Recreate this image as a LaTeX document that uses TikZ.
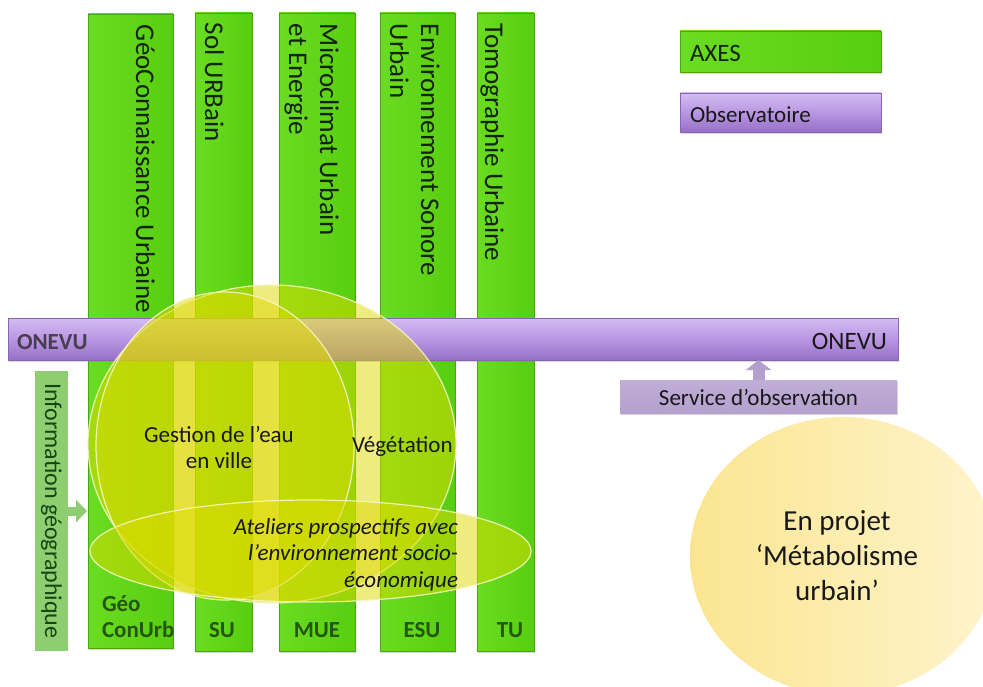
\documentclass[tikz,border=0pt]{standalone}
\usepackage{fontspec}
\setmainfont{Carlito}
\usetikzlibrary{shadows,shapes.geometric,arrows.meta}
\definecolor{barg}{RGB}{88,206,16}
\definecolor{bargl}{RGB}{106,220,34}
\definecolor{bargd}{RGB}{70,168,14}
\definecolor{purl}{RGB}{212,188,242}
\definecolor{purm}{RGB}{185,150,226}
\definecolor{purd}{RGB}{150,112,200}
\definecolor{servp}{RGB}{180,160,206}
\definecolor{infog}{RGB}{142,206,112}
\definecolor{yel}{RGB}{222,218,0}
\definecolor{ringc}{RGB}{246,246,190}
\definecolor{metaA}{RGB}{251,229,145}
\definecolor{metaM}{RGB}{252,235,165}
\definecolor{metaB}{RGB}{254,244,204}
\definecolor{txt}{RGB}{24,24,24}
\definecolor{bartextc}{RGB}{18,34,6}
\definecolor{labgreen}{RGB}{36,86,14}
\definecolor{onevul}{RGB}{72,62,80}
\begin{document}
\begin{tikzpicture}[x=1pt,y=-1pt,
  every node/.append style={inner sep=0pt, outer sep=0pt, text=txt},
  f23/.style={font=\fontsize{23}{26}\selectfont},
  f23b/.style={font=\fontsize{23}{26}\selectfont\bfseries},
  f23i/.style={font=\fontsize{23}{26.5}\selectfont\itshape},
  f24/.style={font=\fontsize{24}{28}\selectfont},
  f25/.style={font=\fontsize{25}{29}\selectfont},
  f29/.style={font=\fontsize{29}{35}\selectfont},
  shad/.style={drop shadow={shadow xshift=1pt, shadow yshift=-2pt, opacity=0.3}},
  axebar/.style={rectangle, draw=bargd, line width=0.7pt, left color=bargl, right color=barg,
    minimum height=638pt, anchor=north west, shad},
  purbar/.style={rectangle, draw=purd!90!black, line width=0.5pt, top color=purl, bottom color=purd,
    middle color=purm, anchor=north west, shad},
  axebox/.style={rectangle, draw=bargd, line width=0.7pt, left color=bargl, right color=barg,
    anchor=north west, shad},
  infobox/.style={rectangle, fill=infog, text=txt!80!green},
  servbox/.style={rectangle, top color=servp!85!white, bottom color=servp, anchor=north west, shad},
  infoarrow/.style={draw=infog, line width=9pt, -{Triangle[width=22pt,length=11pt]}},
  servarrow/.style={draw=servp, line width=12pt, -{Triangle[width=25pt,length=10pt]}},
  circ/.style={ellipse, draw=ringc, line width=1.2pt, draw opacity=0.9, fill=yel, fill opacity=0.5},
  bartxt/.style={font=\fontsize{27}{31}\selectfont, rotate=-90, anchor=base west, text=bartextc},
  lab/.style={f23b, text=labgreen}
]
\useasboundingbox (0,0) rectangle (983,687);
\fill[white] (0,0) rectangle (983,687);

% axes bars
\node[axebar, minimum width=85pt, minimum height=634pt] (b1) at (88,14) {};
\node[axebar, minimum width=57pt] (b2) at (195,13) {};
\node[axebar, minimum width=76pt] (b3) at (279,13) {};
\node[axebar, minimum width=75pt] (b4) at (380,13) {};
\node[axebar, minimum width=57pt] (b5) at (477,13) {};

% observatory bar
\node[purbar, minimum width=890pt, minimum height=42pt] (onevu) at (8,318) {};

% information box and arrow
\node[infobox, f24, rotate=-90, minimum width=280pt, minimum height=33pt] (info) at (51.5,511) {Information géographique};
\coordinate (infotip) at (87,511);
\draw[infoarrow] (info.north |- infotip) -- (infotip);

% service box and arrow
\node[servbox, minimum width=277pt, minimum height=33pt] (serv) at (620,380) {};
\draw[servarrow] (serv.north) -- (serv.north |- onevu.south);
\node[f23, anchor=base] (servt) at (758.5,405) {Service d’observation};

% legend
\node[axebox, minimum width=201pt, minimum height=41pt] (axes) at (680,31) {};
\node[f25, anchor=base west, text=bartextc] (axest) at (690,62) {AXES};
\node[purbar, minimum width=201pt, minimum height=39pt] (obs) at (680,93) {};
\node[f23, anchor=base west] (obst) at (690,123) {Observatoire};

% metabolism project
\node[ellipse, minimum width=306pt, minimum height=278pt, left color=metaA, middle color=metaM, right color=metaB] (meta) at (843,556) {};
\node[f29, align=center, anchor=base] (metat) at (837,600) {En projet\\‘Métabolisme\\urbain’};

% translucent themes
\node[circ, minimum width=368pt, minimum height=318pt] (veg) at (272,444) {};
\node[circ, minimum width=258pt, minimum height=308pt] (eau) at (225,446) {};
\node[circ, minimum width=441pt, minimum height=102pt] (atel) at (310.5,551) {};

% ONEVU labels
\node[f23b, anchor=base west, text=onevul] (onl) at (17,349) {ONEVU};
\node[f25, anchor=base east] (onr) at (887,349) {ONEVU};

% bar labels
\node[bartxt] (l1) at (136,25) {GéoConnaissance Urbaine};
\node[bartxt] (l2) at (205,23) {Sol URBain};
\node[bartxt, align=left] (l3) at (289,24) {Microclimat Urbain\\et Energie};
\node[bartxt, align=left] (l4) at (390,24) {Environnement Sonore\\Urbain};
\node[bartxt] (l5) at (485,24) {Tomographie Urbaine};

% bottom labels
\node[lab, align=left, anchor=base west] (g1) at (102,637) {Géo\\ConUrb};
\node[lab, anchor=base] (g2) at (222,637) {SU};
\node[lab, anchor=base] (g3) at (317,637) {MUE};
\node[lab, anchor=base] (g4) at (422,637) {ESU};
\node[lab, anchor=base] (g5) at (510,637) {TU};

% theme texts
\node[f23, align=center, anchor=base] (eaut) at (219,468) {Gestion de l’eau\\en ville};
\node[f23, anchor=base west] (vegt) at (352,452) {Végétation};
\node[f23i, align=right, anchor=base east] (atelt) at (458,587) {Ateliers prospectifs avec\\l’environnement socio-\\économique};
\end{tikzpicture}
\end{document}
